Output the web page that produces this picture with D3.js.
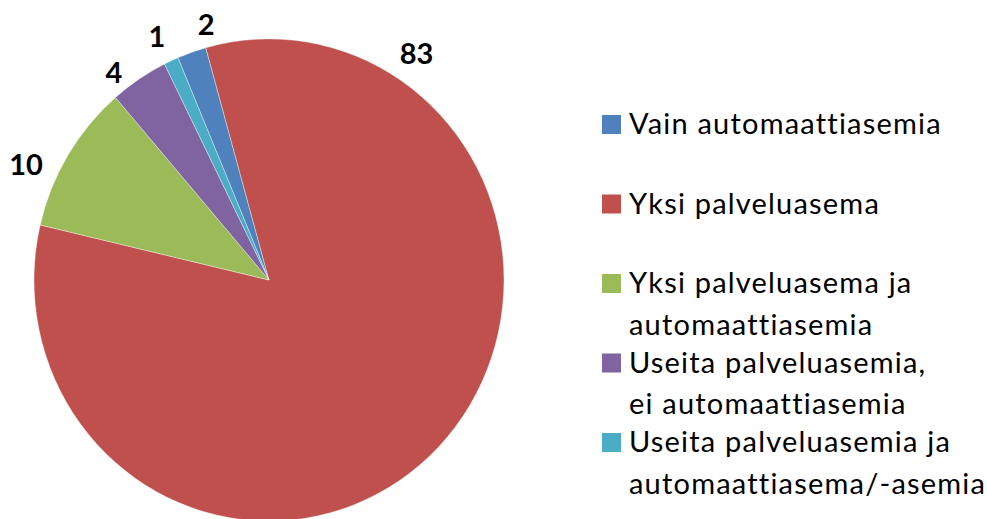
<!DOCTYPE html>
<html>
<head>
<meta charset="utf-8">
<script src="https://cdn.jsdelivr.net/npm/d3@7"></script>
<style>
  html, body { margin: 0; padding: 0; background: #fff; }
  svg { display: block; }
  text { font-family: Lato, "Open Sans", sans-serif; fill: #000;
         font-variant-ligatures: none; font-feature-settings: "liga" 0, "dlig" 0; }
</style>
</head>
<body>
<svg id="chart" width="987" height="519"></svg>
<script>
// ---- data ----
const categories = [
  "Vain automaattiasemia",
  "Yksi palveluasema",
  "Yksi palveluasema ja automaattiasemia",
  "Useita palveluasemia, ei automaattiasemia",
  "Useita palveluasemia ja automaattiasema/-asemia"
];
const legendLines = [
  ["Vain automaattiasemia"],
  ["Yksi palveluasema"],
  ["Yksi palveluasema ja", "automaattiasemia"],
  ["Useita palveluasemia,", "ei automaattiasemia"],
  ["Useita palveluasemia ja", "automaattiasema/-asemia"]
];
const values = [2, 83, 10, 4, 1];
const colors = ["#4F81BD", "#C0504D", "#9BBB59", "#8064A2", "#4BACC6"];

// ---- layout ----
const W = 987, H = 519;
const cx = 269, cy = 280, rx = 235, yScale = 1.026;
const startDeg = -22.8;
const deg = Math.PI / 180;
// label placement (angle in degrees from 12 o'clock, radius) per slice
const labelPos = [
  { a: -14.1, r: 258 },
  { a: 33.7, r: 266 },
  { a: -65.0, r: 268 },
  { a: -37.3, r: 256 },
  { a: -25.2, r: 263 }
];

const svg = d3.select("#chart");

const pie = d3.pie().sort(null).value(d => d)
  .startAngle(startDeg * deg).endAngle(startDeg * deg + 2 * Math.PI);
const arcs = pie(values);
const arc = d3.arc().innerRadius(0).outerRadius(rx);

const g = svg.append("g")
  .attr("transform", `translate(${cx},${cy}) scale(1,${yScale})`);

g.selectAll("path.slice")
  .data(arcs)
  .join("path")
  .attr("class", "slice")
  .attr("d", arc)
  .attr("fill", (d, i) => colors[i])
  .attr("stroke", "#ffffff")
  .attr("stroke-opacity", 0.6)
  .attr("stroke-width", 0.6)
  .attr("vector-effect", "non-scaling-stroke");

// data labels
svg.selectAll("text.lbl")
  .data(arcs)
  .join("text")
  .attr("class", "lbl")
  .attr("x", (d, i) => cx + labelPos[i].r * Math.sin(labelPos[i].a * deg))
  .attr("y", (d, i) => cy - labelPos[i].r * Math.cos(labelPos[i].a * deg) * yScale)
  .attr("text-anchor", "middle")
  .attr("dominant-baseline", "central")
  .style("font-weight", "bold")
  .style("font-size", "29px")
  .text(d => d.data);

// legend
const legendY = d3.scalePoint().domain(d3.range(categories.length)).range([134, 452]);
const legend = svg.append("g");
const items = legend.selectAll("g.item")
  .data(categories)
  .join("g")
  .attr("class", "item")
  .attr("transform", (d, i) => `translate(0,${legendY(i)})`);

items.append("rect")
  .attr("x", 602).attr("y", -19)
  .attr("width", 19).attr("height", 19)
  .attr("fill", (d, i) => colors[i]);

items.each(function(d, i) {
  const t = d3.select(this).append("text")
    .attr("x", 629).attr("y", 0)
    .style("font-size", "29px")
    .style("letter-spacing", "1.2px");
  legendLines[i].forEach((line, j) => {
    t.append("tspan").attr("x", 629).attr("y", j * 41.5).text(line);
  });
});
</script>
</body>
</html>
